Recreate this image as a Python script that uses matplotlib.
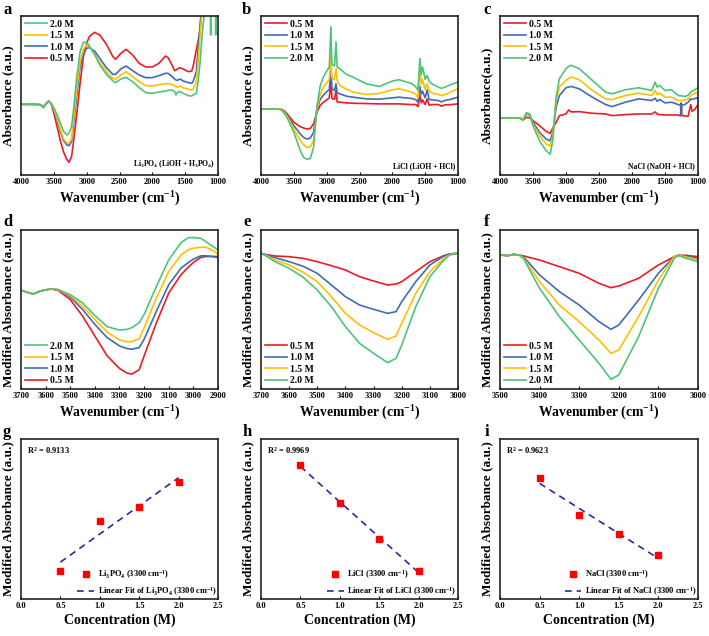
import numpy as np
import matplotlib
matplotlib.use('Agg')
import matplotlib.pyplot as plt

plt.rcParams['font.family'] = 'Liberation Serif'
plt.rcParams['font.weight'] = 'bold'
plt.rcParams['axes.labelweight'] = 'bold'
plt.rcParams['mathtext.fontset'] = 'custom'
plt.rcParams['mathtext.rm'] = 'Liberation Serif:bold'
plt.rcParams['mathtext.bf'] = 'Liberation Serif:bold'
plt.rcParams['mathtext.it'] = 'Liberation Serif:bold'
plt.rcParams['mathtext.default'] = 'rm'

# ------------------------------
#    DATA (arbitrary absorbance units)
# ------------------------------
labels = ['0.5 M', '1.0 M', '1.5 M', '2.0 M']
colors = ['#ec1c24', '#3f6cb4', '#ffc000', '#4ec47a']

# a: Li3PO4 full spectrum
a_wn = [4000, 3800, 3700, 3660, 3620, 3580, 3540, 3500, 3450, 3400, 3350, 3300, 3270, 3230,
        3200, 3150, 3100, 3050, 3000, 2960, 2880, 2800, 2700, 2600, 2560, 2480, 2400, 2300,
        2200, 2100, 2000, 1900, 1800, 1760, 1700, 1660, 1640, 1620, 1580, 1530, 1450, 1400,
        1380, 1330, 1300, 1270, 1240, 1200, 1170, 1120, 1112, 1100, 1040, 1035, 1030, 1000]
a_05 = [212, 212, 211, 203, 214, 222, 214, 185, 145, 102, 68, 46, 38, 55,
        100, 185, 275, 355, 395, 415, 428, 420, 392, 355, 347, 365, 377, 360,
        335, 324, 324, 335, 357, 352, 330, 313, 315, 318, 322, 318, 310, 312,
        325, 375, 405, 440, 520, 600, 600, 600, 600, 600, 600, 600, 600, 600]
a_10 = [212, 212, 211, 203, 214, 221, 215, 195, 165, 130, 103, 90, 88, 100,
        150, 240, 325, 365, 380, 382, 372, 350, 322, 302, 302, 318, 327, 313,
        300, 292, 292, 298, 305, 305, 296, 288, 285, 284, 288, 282, 277, 275,
        280, 310, 385, 455, 530, 600, 600, 600, 600, 600, 600, 600, 600, 600]
a_15 = [212, 212, 210, 202, 213, 220, 214, 198, 170, 137, 108, 96, 95, 108,
        165, 260, 340, 378, 390, 385, 362, 338, 310, 290, 287, 300, 310, 295,
        280, 268, 267, 271, 274, 274, 272, 268, 265, 263, 267, 262, 257, 255,
        257, 280, 345, 425, 500, 580, 600, 600, 600, 600, 600, 600, 600, 600]
a_20 = [212, 212, 210, 202, 213, 220, 214, 202, 180, 155, 130, 120, 125, 145,
        195, 295, 370, 398, 398, 388, 362, 330, 302, 282, 277, 288, 293, 280,
        262, 247, 245, 249, 252, 254, 255, 250, 240, 248, 250, 245, 238, 237,
        240, 245, 285, 345, 425, 500, 580, 600, 420, 600, 600, 420, 600, 600]

# b: LiCl full spectrum
b_wn = [4000, 3800, 3700, 3650, 3600, 3500, 3400, 3350, 3300, 3250, 3200, 3150, 3100, 3050, 3000,
        2960, 2935, 2920, 2880, 2858, 2840, 2800, 2700, 2600, 2400, 2200, 2000, 1900, 1800, 1700,
        1640, 1610, 1580, 1560, 1540, 1500, 1470, 1440, 1400, 1300, 1250, 1200, 1100, 1000]
b_05 = [197, 197, 197, 192, 182, 157, 144, 140, 137, 139, 152, 187, 207, 217, 224,
        230, 282, 228, 226, 252, 218, 217, 215, 214, 213, 212, 212, 212, 211, 210,
        210, 204, 237, 215, 224, 210, 227, 208, 210, 210, 205, 209, 210, 212]
b_10 = [197, 197, 197, 190, 178, 147, 122, 112, 107, 110, 127, 192, 225, 238, 248,
        255, 322, 258, 252, 272, 245, 242, 235, 232, 227, 226, 230, 232, 230, 228,
        224, 217, 264, 240, 250, 230, 254, 225, 224, 222, 218, 222, 226, 232]
b_15 = [197, 197, 197, 188, 175, 137, 102, 90, 82, 84, 102, 192, 240, 262, 275,
        285, 357, 290, 285, 317, 280, 267, 256, 247, 240, 243, 254, 257, 252, 247,
        240, 230, 322, 270, 285, 255, 272, 250, 245, 240, 237, 240, 248, 257]
b_20 = [197, 197, 195, 185, 170, 127, 72, 52, 47, 49, 82, 202, 265, 292, 310,
        322, 442, 330, 325, 397, 322, 317, 300, 292, 272, 264, 280, 284, 278, 272,
        262, 252, 347, 300, 322, 285, 297, 280, 272, 262, 258, 262, 270, 277]

# c: NaCl full spectrum
c_wn = [4000, 3800, 3700, 3650, 3600, 3550, 3500, 3400, 3300, 3240, 3200, 3150, 3100,
        3000, 2960, 2920, 2800, 2600, 2400, 2300, 2100, 1900, 1700, 1650, 1620, 1580,
        1500, 1400, 1300, 1265, 1255, 1245, 1200, 1150, 1110, 1090, 1050, 1000]
c_05 = [170, 170, 170, 164, 172, 170, 162, 147, 130, 124, 140, 157, 177,
        182, 194, 188, 189, 184, 182, 177, 180, 182, 182, 188, 182, 180,
        179, 179, 179, 176, 215, 178, 176, 175, 210, 190, 195, 210]
c_10 = [170, 170, 170, 164, 182, 178, 157, 127, 107, 102, 127, 202, 237,
        260, 262, 264, 257, 232, 210, 204, 217, 227, 222, 229, 220, 225,
        215, 217, 210, 208, 177, 208, 210, 217, 227, 225, 228, 230]
c_15 = [170, 170, 170, 164, 184, 180, 152, 117, 92, 87, 117, 222, 262,
        282, 288, 292, 284, 252, 227, 225, 237, 244, 237, 252, 240, 244,
        232, 232, 222, 222, 222, 222, 224, 227, 237, 240, 243, 247]
c_20 = [170, 170, 170, 164, 186, 182, 147, 102, 72, 62, 102, 232, 287,
        317, 324, 327, 317, 282, 247, 242, 254, 260, 252, 277, 262, 267,
        252, 254, 237, 236, 236, 236, 234, 238, 247, 250, 254, 260]

# d: Li3PO4 modified (O-H region)
d_wn = [3700, 3675, 3650, 3620, 3580, 3550, 3500, 3450, 3400, 3350, 3300, 3270,
        3250, 3220, 3200, 3150, 3100, 3050, 3020, 3000, 2970, 2950, 2920, 2900]
d_05 = [298, 292, 287, 296, 302, 298, 270, 220, 160, 100, 62, 48,
        45, 58, 100, 200, 290, 345, 368, 382, 397, 400, 400, 400]
d_10 = [298, 292, 287, 296, 302, 300, 278, 240, 195, 155, 130, 122,
        120, 125, 150, 235, 315, 365, 382, 392, 402, 402, 400, 396]
d_15 = [298, 292, 287, 296, 302, 300, 282, 250, 210, 172, 148, 143,
        143, 152, 185, 275, 355, 405, 420, 425, 428, 428, 418, 407]
d_20 = [298, 292, 287, 296, 302, 300, 285, 260, 222, 188, 178, 180,
        185, 200, 225, 310, 390, 442, 457, 457, 455, 445, 430, 420]

# e: LiCl modified
e_wn = [3700, 3680, 3650, 3600, 3550, 3500, 3450, 3400, 3350, 3300, 3250, 3220,
        3200, 3150, 3100, 3050, 3030, 3000]
e_05 = [407, 403, 399, 397, 392, 382, 370, 357, 337, 324, 312, 315, 322, 352, 382, 400, 405, 407]
e_10 = [407, 402, 394, 382, 368, 347, 312, 277, 252, 239, 227, 232, 262, 322, 372, 399, 405, 407]
e_15 = [407, 400, 387, 372, 350, 322, 277, 227, 192, 169, 149, 159, 197, 287, 352, 392, 403, 407]
e_20 = [407, 398, 382, 362, 335, 297, 247, 187, 137, 107, 79, 92, 132, 247, 337, 387, 402, 407]

# f: NaCl modified
f_wn = [3500, 3480, 3465, 3450, 3440, 3400, 3350, 3300, 3250, 3220, 3200, 3150,
        3100, 3060, 3050, 3030, 3000]
f_05 = [402, 400, 404, 401, 399, 387, 367, 347, 317, 304, 309, 332, 372, 397, 401, 401, 397]
f_10 = [402, 400, 404, 401, 396, 342, 292, 252, 202, 179, 192, 267, 347, 397, 401, 398, 392]
f_15 = [402, 400, 404, 401, 392, 322, 252, 202, 147, 107, 117, 217, 327, 397, 401, 396, 387]
f_20 = [402, 400, 404, 401, 390, 302, 217, 147, 77, 29, 42, 157, 302, 392, 401, 392, 382]

# g-i: modified absorbance at 3300 cm-1 vs concentration
conc = [0.5, 1.0, 1.5, 2.0]
g_abs = [85, 233, 276, 351]
h_abs = [401, 286, 178, 85]
i_abs = [360, 250, 193, 130]

# ------------------------------
#    LAYOUT
# ------------------------------
W, H = 709, 636
fig = plt.figure(figsize=(W / 100, H / 100), dpi=100)

col_left = [21, 261, 500]
col_width = [197, 197, 198]
row_top = [16, 230, 439]
row_height = [159, 159, 160]


def make_ax(r, c):
    x0 = col_left[c] / W
    y0 = (H - row_top[r] - row_height[r]) / H
    ax = fig.add_axes([x0, y0, col_width[c] / W, row_height[r] / H])
    for s in ax.spines.values():
        s.set_linewidth(1.2)
        s.set_color('#222222')
    ax.tick_params(axis='x', direction='in', length=2, width=0.8, labelsize=6, pad=2)
    ax.tick_params(axis='y', left=False, labelleft=False)
    ax.yaxis.set_label_coords(-0.035, 0.5)
    return ax


def bold_ticks(ax):
    for t in ax.get_xticklabels():
        t.set_fontweight('bold')


def spectrum(ax, wn, series, xlim, ticks, ylim, ylabel, legend_loc, reverse=False):
    handles = []
    for vals, lab, col in zip(series, labels, colors):
        h, = ax.plot(wn, vals, color=col, lw=1.2, label=lab)
        handles.append(h)
    if reverse:
        handles = handles[::-1]
    ax.set_xlim(*xlim)
    ax.set_ylim(0, ylim)
    ax.set_xticks(ticks)
    bold_ticks(ax)
    ax.set_xlabel('Wavenumber (cm$^{-1}$)', fontsize=9.8, labelpad=3)
    ax.set_ylabel(ylabel, fontsize=9.5)
    ax.legend(handles=handles, loc=legend_loc, frameon=False, fontsize=7,
              handlelength=2.3, handletextpad=0.3, labelspacing=0.25,
              borderaxespad=0.2, borderpad=0.2)


def fitplot(ax, vals, ylim, name, r2):
    ax.plot(conc, vals, 's', color='#ff0000', ms=4.5, label=f'{name} (3300 cm$^{{-1}}$)', zorder=3)
    k, b = np.polyfit(conc, vals, 1)
    xf = np.array([conc[0], conc[-1]])
    ax.plot(xf, k * xf + b, '--', color='#2a2a9c', lw=1.2, dashes=(4, 3),
            label=f'Linear Fit of {name} (3300 cm$^{{-1}}$)')
    ax.set_xlim(0, 2.5)
    ax.set_ylim(0, ylim)
    ax.set_xticks([0.0, 0.5, 1.0, 1.5, 2.0, 2.5])
    ax.set_xticklabels(['0.0', '0.5', '1.0', '1.5', '2.0', '2.5'], fontweight='bold')
    ax.set_xlabel('Concentration (M)', fontsize=10, labelpad=3)
    ax.set_ylabel('Modified Absorbance (a.u.)', fontsize=9.5)
    ax.text(0.03, 0.96, f'R$^2$ = {r2}', transform=ax.transAxes, fontsize=6, va='top', ha='left')
    ax.legend(loc='lower right', frameon=False, fontsize=6, numpoints=1, handlelength=2.0,
              handletextpad=0.45, labelspacing=0.55, borderaxespad=0.05, borderpad=0.1)


full_ticks = [4000, 3500, 3000, 2500, 2000, 1500, 1000]

ax = make_ax(0, 0)
spectrum(ax, a_wn, [a_05, a_10, a_15, a_20], (4000, 1000), full_ticks, 477,
         'Absorbance (a.u.)', 'upper left', reverse=True)
ax.text(0.985, 0.03, 'Li$_3$PO$_4$ (LiOH + H$_3$PO$_4$)', transform=ax.transAxes,
        fontsize=5.5, ha='right', va='bottom')

ax = make_ax(0, 1)
spectrum(ax, b_wn, [b_05, b_10, b_15, b_20], (4000, 1000), full_ticks, 474,
         'Absorbance (a.u.)', 'upper left')
ax.text(0.985, 0.03, 'LiCl (LiOH + HCl)', transform=ax.transAxes,
        fontsize=5.5, ha='right', va='bottom')

ax = make_ax(0, 2)
spectrum(ax, c_wn, [c_05, c_10, c_15, c_20], (4000, 1000), full_ticks, 474,
         'Absorbance(a.u.)', 'upper left')
ax.text(0.985, 0.03, 'NaCl (NaOH + HCl)', transform=ax.transAxes,
        fontsize=5.5, ha='right', va='bottom')

ax = make_ax(1, 0)
spectrum(ax, d_wn, [d_05, d_10, d_15, d_20], (3700, 2900),
         [3700, 3600, 3500, 3400, 3300, 3200, 3100, 3000, 2900], 480,
         'Modified Absorbance (a.u.)', 'lower left', reverse=True)

ax = make_ax(1, 1)
spectrum(ax, e_wn, [e_05, e_10, e_15, e_20], (3700, 3000),
         [3700, 3600, 3500, 3400, 3300, 3200, 3100, 3000], 477,
         'Modified Absorbance (a.u.)', 'lower left')

ax = make_ax(1, 2)
spectrum(ax, f_wn, [f_05, f_10, f_15, f_20], (3500, 3000),
         [3500, 3400, 3300, 3200, 3100, 3000], 477,
         'Modified Absorbance (a.u.)', 'lower left')

ax = make_ax(2, 0)
fitplot(ax, g_abs, 478, 'Li$_3$PO$_4$', '0.9133')
ax = make_ax(2, 1)
fitplot(ax, h_abs, 478, 'LiCl', '0.9969')
ax = make_ax(2, 2)
fitplot(ax, i_abs, 478, 'NaCl', '0.9623')

# panel letters
letters = {'a': (3, 2), 'b': (242, 2), 'c': (483, 2),
           'd': (3, 214), 'e': (243, 214), 'f': (484, 214),
           'g': (3, 424), 'h': (243, 424), 'i': (485, 424)}
for k, (px, py) in letters.items():
    fig.text(px / W, 1 - py / H, k, fontsize=12, fontweight='bold', ha='left', va='top')

fig.savefig('out.png', dpi=100)
